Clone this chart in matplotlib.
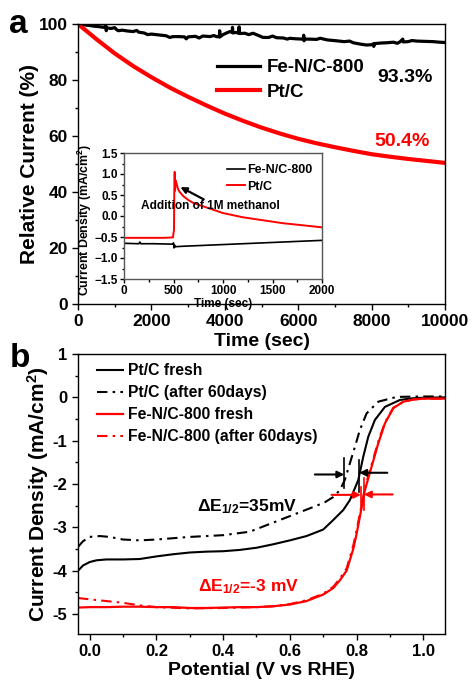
import matplotlib
matplotlib.use('Agg')
import matplotlib.pyplot as plt
from matplotlib.ticker import MultipleLocator

plt.rcParams['font.family'] = ['Liberation Sans', 'DejaVu Sans']
plt.rcParams['font.weight'] = 'bold'
plt.rcParams['axes.labelweight'] = 'bold'
plt.rcParams['mathtext.fontset'] = 'custom'
plt.rcParams['mathtext.rm'] = 'Liberation Sans:bold'
plt.rcParams['mathtext.it'] = 'Liberation Sans:bold'
plt.rcParams['mathtext.bf'] = 'Liberation Sans:bold'

# ---------------- Panel a data ----------------
fe_time = [0, 150, 300, 450, 600, 700, 760, 770, 780, 900, 1000, 1050, 1100, 1200, 1350,
           1500, 1600, 1650, 1800, 1900, 2000, 2200, 2400, 2500, 2590, 2750, 2900, 2950,
           3000, 3200, 3300, 3400, 3600, 3700, 3770, 3850, 3860, 3870, 3950, 4050, 4140,
           4200, 4210, 4220, 4300, 4380, 4390, 4400, 4550, 4650, 4770, 4900, 5040, 5200,
           5300, 5410, 5600, 5700, 5770, 5950, 6140, 6150, 6160, 6170, 6300, 6500, 6600,
           6800, 7045, 7250, 7400, 7500, 7700, 7860, 8000, 8045, 8060, 8080, 8250, 8410,
           8600, 8700, 8770, 8850, 8860, 9000, 9100, 9230, 9450, 9680, 9850, 10000]
fe_current = [100, 99.7, 99.5, 99.2, 99.0, 98.8, 99.4, 97.6, 98.6, 98.4, 98.7, 98.0, 97.6,
              97.8, 97.5, 97.3, 97.7, 97.1, 96.8, 96.2, 96.4, 96.1, 95.8, 95.2, 95.5, 95.5,
              95.4, 94.7, 95.4, 95.6, 95.0, 95.7, 95.5, 95.9, 95.5, 95.4, 97.6, 95.4, 96.2,
              96.8, 97.3, 97.0, 98.8, 96.8, 97.0, 96.7, 99.0, 96.6, 96.7, 96.2, 96.7, 96.0,
              95.2, 95.2, 95.7, 95.1, 95.0, 94.6, 94.9, 94.7, 94.6, 96.0, 94.0, 94.6, 94.6,
              94.5, 94.9, 94.3, 94.0, 93.7, 93.9, 93.3, 92.8, 92.5, 92.6, 92.9, 92.0, 93.0,
              93.2, 93.3, 93.5, 93.1, 93.6, 94.6, 93.6, 93.7, 94.1, 93.9, 93.8, 93.7, 93.5,
              93.4]

ptc_time = [0, 500, 1000, 1500, 2000, 2500, 3000, 3500, 4000, 4500, 5000, 5500, 6000,
            6500, 7000, 7500, 8000, 8500, 9000, 9500, 10000]
ptc_current = [100, 94.6, 89.5, 85.0, 81.0, 77.3, 74.0, 70.9, 68.0, 65.4, 63.0, 60.9, 59.0,
               57.4, 56.0, 54.7, 53.5, 52.6, 51.8, 51.1, 50.4]

# ---------------- Inset data ----------------
in_pt_time = [0, 200, 400, 495, 500, 505, 508, 512, 516, 520, 530, 545, 560, 600, 650,
              700, 800, 900, 1000, 1100, 1200, 1400, 1600, 1800, 2000]
in_pt_cd = [-0.52, -0.52, -0.52, -0.51, -0.40, -0.35, 0.6, 1.05, 0.6, 0.85, 0.78, 0.65,
            0.58, 0.47, 0.38, 0.31, 0.23, 0.15, 0.07, 0.02, -0.03, -0.10, -0.17, -0.22, -0.27]
in_fe_time = [0, 150, 160, 170, 300, 490, 500, 505, 510, 515, 520, 600, 800, 1000, 1200,
              1500, 1800, 2000]
in_fe_cd = [-0.65, -0.66, -0.62, -0.66, -0.66, -0.67, -0.64, -0.76, -0.69, -0.74, -0.73,
            -0.72, -0.70, -0.68, -0.66, -0.63, -0.60, -0.58]

# ---------------- Panel b data ----------------
ptf_E = [-0.035, -0.02, 0.0, 0.02, 0.05, 0.1, 0.15, 0.2, 0.25, 0.3, 0.35, 0.4, 0.45, 0.5,
         0.55, 0.6, 0.65, 0.7, 0.73, 0.76, 0.78, 0.805, 0.82, 0.835, 0.855, 0.885, 0.93,
         0.97, 1.0, 1.065]
ptf_j = [-4.0, -3.88, -3.8, -3.76, -3.74, -3.74, -3.73, -3.67, -3.62, -3.58, -3.56, -3.55,
         -3.52, -3.47, -3.39, -3.3, -3.2, -3.05, -2.83, -2.6, -2.37, -1.91, -1.37, -0.91,
         -0.52, -0.22, -0.06, -0.02, -0.01, 0.0]

pta_E = [-0.035, -0.02, 0.0, 0.03, 0.06, 0.1, 0.15, 0.2, 0.25, 0.3, 0.4, 0.48, 0.58, 0.64,
         0.68, 0.705, 0.73, 0.75, 0.765, 0.78, 0.795, 0.81, 0.83, 0.865, 0.92, 1.0, 1.065]
pta_j = [-3.45, -3.32, -3.22, -3.2, -3.22, -3.28, -3.3, -3.28, -3.25, -3.22, -3.18, -3.1,
         -2.8, -2.62, -2.5, -2.42, -2.3, -2.14, -1.9, -1.52, -1.14, -0.75, -0.37, -0.1,
         0.01, 0.02, 0.02]

fef_E = [-0.035, 0.0, 0.05, 0.1, 0.15, 0.2, 0.25, 0.3, 0.35, 0.4, 0.45, 0.5, 0.55, 0.6,
         0.65, 0.7, 0.73, 0.75, 0.77, 0.79, 0.80, 0.81, 0.825, 0.845, 0.865, 0.885, 0.91,
         0.94, 0.97, 1.0, 1.065]
fef_j = [-4.85, -4.84, -4.84, -4.83, -4.83, -4.84, -4.84, -4.86, -4.86, -4.85, -4.84,
         -4.84, -4.82, -4.78, -4.7, -4.55, -4.4, -4.22, -4.0, -3.5, -3.15, -2.75, -2.14,
         -1.6, -1.06, -0.6, -0.25, -0.1, -0.05, -0.03, -0.03]

fea_E = [-0.035, 0.0, 0.05, 0.1, 0.15, 0.2, 0.3, 0.4, 0.5, 0.55, 0.6, 0.65, 0.7, 0.73,
         0.75, 0.77, 0.79, 0.80, 0.81, 0.825, 0.845, 0.865, 0.885, 0.91, 0.94, 0.97, 1.0,
         1.065]
fea_j = [-4.63, -4.66, -4.7, -4.74, -4.8, -4.84, -4.87, -4.86, -4.84, -4.82, -4.77, -4.68,
         -4.53, -4.37, -4.18, -3.95, -3.42, -3.07, -2.68, -2.08, -1.55, -1.02, -0.58,
         -0.24, -0.1, -0.05, -0.03, -0.03]

RED = '#ff0000'
W, H = 473, 680
fig = plt.figure(figsize=(W / 100, H / 100), dpi=100)


def style_axes(ax, fs=12, major_len=4, minor_len=2.5):
    for s in ax.spines.values():
        s.set_linewidth(1.0)
    ax.tick_params(which='both', direction='out', top=False, right=False, width=1.0,
                   labelsize=fs)
    ax.tick_params(which='major', length=major_len)
    ax.tick_params(which='minor', length=minor_len)
    for lab in ax.get_xticklabels() + ax.get_yticklabels():
        lab.set_fontweight('bold')


# ---------------- Panel a ----------------
axa = fig.add_axes([78 / W, 1 - 304 / H, 367 / W, 280 / H])
axa.plot(fe_time, fe_current, color='black', lw=2.3, label='Fe-N/C-800')
axa.plot(ptc_time, ptc_current, color=RED, lw=3.0, label='Pt/C')
axa.set_xlim(0, 10000)
axa.set_ylim(0, 100)
axa.xaxis.set_major_locator(MultipleLocator(2000))
axa.xaxis.set_minor_locator(MultipleLocator(1000))
axa.yaxis.set_major_locator(MultipleLocator(20))
axa.yaxis.set_minor_locator(MultipleLocator(10))
style_axes(axa, fs=12.5)
axa.set_xlabel('Time (sec)', fontsize=14, fontweight='bold', va='center')
axa.xaxis.set_label_coords(0.5, -0.135)
axa.set_ylabel('Relative Current (%)', fontsize=15, fontweight='bold', va='center')
axa.yaxis.set_label_coords(-0.133, 0.5)
axa.legend(loc='upper left', bbox_to_anchor=(217 / W, 1 - 59 / H),
           bbox_transform=fig.transFigure, frameon=False,
           handlelength=2.3, handletextpad=0.37, labelspacing=0.39, borderpad=0,
           borderaxespad=0, prop={'weight': 'bold', 'size': 13.5})
fig.text(377 / W, 1 - 82 / H, '93.3%', fontsize=14, fontweight='bold', color='black')
fig.text(374 / W, 1 - 146 / H, '50.4%', fontsize=14, fontweight='bold', color=RED)
fig.text(9 / W, 1 - 33 / H, 'a', fontsize=24, fontweight='bold')

# ---------------- Inset ----------------
axi = fig.add_axes([124 / W, 1 - 279 / H, 198 / W, 126 / H])
axi.set_facecolor('white')
axi.plot(in_fe_time, in_fe_cd, color='black', lw=1.2, label='Fe-N/C-800')
axi.plot(in_pt_time, in_pt_cd, color=RED, lw=1.4, label='Pt/C')
axi.set_xlim(0, 2000)
axi.set_ylim(-1.5, 1.5)
axi.xaxis.set_major_locator(MultipleLocator(500))
axi.xaxis.set_minor_locator(MultipleLocator(250))
axi.yaxis.set_major_locator(MultipleLocator(0.5))
axi.yaxis.set_minor_locator(MultipleLocator(0.25))
style_axes(axi, fs=8.5, major_len=3, minor_len=1.8)
for s in axi.spines.values():
    s.set_color('#555555')
axi.tick_params(which='both', pad=1.5)
axi.set_xlabel('Time (sec)', fontsize=8.5, fontweight='bold', va='top')
axi.xaxis.set_label_coords(0.5, -0.15)
axi.set_ylabel('Current Density (mA/cm$^2$)', fontsize=8.9, fontweight='bold', va='center')
axi.yaxis.set_label_coords(-0.2, 0.47)
axi.legend(loc='upper left', bbox_to_anchor=(227 / W, 1 - 164 / H),
           bbox_transform=fig.transFigure, frameon=False,
           handlelength=1.45, handletextpad=0.15, labelspacing=0.36, borderpad=0,
           borderaxespad=0, prop={'weight': 'bold', 'size': 9})
axi.annotate('', xy=(545, 0.72), xytext=(830, 0.365),
             arrowprops=dict(arrowstyle='-|>', color='black', lw=1.6, mutation_scale=9))
axi.text(175, 0.23, 'Addition of 1M methanol', fontsize=8.6, fontweight='bold',
         va='center', ha='left')

# ---------------- Panel b ----------------
axb = fig.add_axes([78 / W, 1 - 634 / H, 367 / W, 280 / H])
dashdot = (0, (5, 2.5, 1.2, 2.5))
axb.plot(ptf_E, ptf_j, color='black', lw=1.5, label='Pt/C fresh')
axb.plot(pta_E, pta_j, color='black', lw=1.5, linestyle=dashdot, label='Pt/C (after 60days)')
axb.plot(fef_E, fef_j, color=RED, lw=1.6, label='Fe-N/C-800 fresh')
axb.plot(fea_E, fea_j, color=RED, lw=1.5, linestyle=dashdot, label='Fe-N/C-800 (after 60days)')
axb.set_xlim(-0.035, 1.065)
axb.set_ylim(-5.46, 1.0)
axb.xaxis.set_minor_locator(MultipleLocator(0.1))
axb.yaxis.set_minor_locator(MultipleLocator(0.5))
axb.set_xticks([0.0, 0.2, 0.4, 0.6, 0.8, 1.0])
axb.set_xticklabels(['0.0', '0.2', '0.4', '0.6', '0.8', '1.0'])
axb.set_yticks([1, 0, -1, -2, -3, -4, -5])
axb.set_yticklabels(['1', '0', '-1', '-2', '-3', '-4', '-5'])
style_axes(axb, fs=12)
axb.set_xlabel('Potential (V vs RHE)', fontsize=14, fontweight='bold', va='center')
axb.xaxis.set_label_coords(0.5, -0.129)
axb.set_ylabel('Current Density (mA/cm$^2$)', fontsize=15, fontweight='bold', va='center')
axb.yaxis.set_label_coords(-0.109, 0.5)
axb.legend(loc='upper left', bbox_to_anchor=(97 / W, 1 - 363 / H),
           bbox_transform=fig.transFigure, frameon=False,
           handlelength=1.65, handletextpad=0.3, labelspacing=0.45, borderpad=0,
           borderaxespad=0, prop={'weight': 'bold', 'size': 11.3})

# half-wave markers
axb.plot([0.763, 0.763], [-1.4, -2.1], color='black', lw=1.2)
axb.plot([0.808, 0.808], [-1.45, -2.18], color='black', lw=1.2)
axb.annotate('', xy=(0.763, -1.78), xytext=(0.675, -1.78),
             arrowprops=dict(arrowstyle='-|>', color='black', lw=1.5, mutation_scale=10,
                             shrinkA=0, shrinkB=0))
axb.annotate('', xy=(0.808, -1.74), xytext=(0.892, -1.74),
             arrowprops=dict(arrowstyle='-|>', color='black', lw=1.5, mutation_scale=10,
                             shrinkA=0, shrinkB=0))
axb.plot([0.813, 0.813], [-2.06, -2.52], color=RED, lw=1.2)
axb.plot([0.822, 0.822], [-1.86, -2.6], color=RED, lw=1.2)
axb.annotate('', xy=(0.813, -2.25), xytext=(0.725, -2.25),
             arrowprops=dict(arrowstyle='-|>', color=RED, lw=1.5, mutation_scale=10,
                             shrinkA=0, shrinkB=0))
axb.annotate('', xy=(0.822, -2.24), xytext=(0.908, -2.24),
             arrowprops=dict(arrowstyle='-|>', color=RED, lw=1.5, mutation_scale=10,
                             shrinkA=0, shrinkB=0))
axb.text(0.321, -2.53, 'ΔE$_{1/2}$=35mV', fontsize=12.5, fontweight='bold', color='black',
         va='center', ha='left')
axb.text(0.325, -4.37, 'ΔE$_{1/2}$=-3 mV', fontsize=12.5, fontweight='bold', color=RED,
         va='center', ha='left')
fig.text(10 / W, 1 - 367 / H, 'b', fontsize=24, fontweight='bold')

fig.savefig('out.png', dpi=100)
